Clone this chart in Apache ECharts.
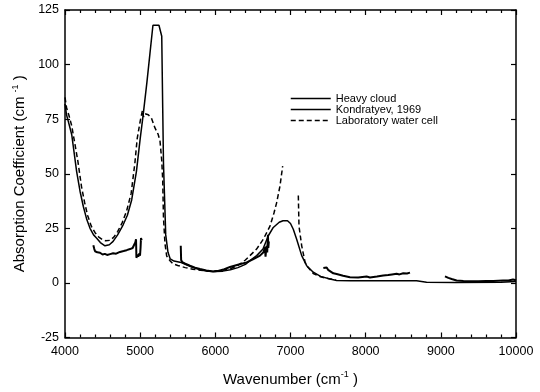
<!DOCTYPE html>
<html>
<head>
<meta charset="utf-8">
<script src="https://cdn.jsdelivr.net/npm/echarts@6/dist/echarts.min.js"></script>
<style>
  html, body { margin: 0; padding: 0; background: #fff; }
  #chart { width: 540px; height: 392px; }
</style>
</head>
<body>
<div id="chart"></div>
<script>
// 坐标轴范围
const xMin = 4000, xMax = 10000, xStep = 1000;
const yMin = -25, yMax = 125, yStep = 25;

const legendNames = ['Heavy cloud', 'Kondratyev, 1969', 'Laboratory water cell'];

// Kondratyev, 1969 (平滑实线)
const kondratyev = [
  [4000, 82], [4020, 77], [4044, 74], [4089, 68], [4155, 51], [4200, 42], [4244, 35],
  [4290, 29], [4333, 25], [4380, 22], [4422, 20.5], [4470, 18.5], [4532, 17], [4590, 17.5],
  [4640, 19], [4700, 22], [4772, 26.5], [4830, 31], [4887, 38], [4950, 51], [5000, 66],
  [5040, 77], [5090, 92], [5130, 105], [5170, 118], [5250, 118], [5287, 113], [5300, 80],
  [5310, 55], [5340, 22], [5370, 14], [5400, 11], [5450, 10], [5530, 9.5], [5600, 8.5],
  [5700, 7], [5800, 6], [5900, 5.3], [6000, 5.2], [6100, 5.4], [6200, 6], [6300, 7],
  [6400, 8.5], [6460, 10.2], [6550, 12.5], [6634, 15.5], [6705, 21.6], [6771, 25.4],
  [6850, 27.8], [6900, 28.5], [6960, 28.5], [7000, 27.2], [7037, 24.6], [7082, 20],
  [7149, 12.5], [7215, 7.9], [7303, 4.9], [7400, 3], [7525, 1.8], [7614, 1.1], [7800, 1],
  [8200, 1], [8677, 1], [8810, 0.3], [9200, 0.2], [9800, 0.3], [10000, 0.6]
];

// Laboratory water cell (虚线, 中间断开)
const waterCellA = [
  [4000, 85], [4022, 80], [4050, 77], [4089, 72], [4130, 64], [4170, 56], [4220, 44],
  [4260, 37], [4300, 31], [4350, 26], [4400, 23], [4450, 21], [4500, 19.8], [4540, 19.3],
  [4600, 19.5], [4650, 21], [4700, 23.5], [4760, 27.5], [4820, 33], [4880, 41], [4930, 55],
  [4960, 66], [5000, 74], [5030, 79], [5045, 76], [5060, 77.5], [5108, 77], [5150, 75.5],
  [5197, 71], [5240, 68], [5264, 65], [5287, 56], [5300, 47], [5310, 30], [5330, 18],
  [5353, 12.3], [5400, 10], [5437, 8.7], [5500, 8], [5600, 7], [5700, 6.3], [5800, 5.8],
  [5900, 5.5], [6000, 5.5], [6100, 5.8], [6200, 6.5], [6300, 8], [6400, 10.5], [6460, 12.5],
  [6549, 15.5], [6638, 20], [6727, 26], [6780, 32], [6816, 36.8], [6860, 44.4], [6896, 53.5]
];
const waterCellB = [
  [7104, 40], [7113, 26], [7149, 17], [7193, 9.6], [7215, 7.9], [7303, 4.3], [7400, 2.8],
  [7500, 2], [7600, 1.4]
];

// Heavy cloud (噪声实线, 四段)
const heavyCloudA = [
  [4377, 17.3], [4390, 15.5], [4400, 14.5], [4430, 14], [4466, 13.8], [4500, 13], [4530, 13.3],
  [4560, 12.8], [4600, 13.2], [4640, 13.6], [4680, 13.4], [4731, 14.2], [4780, 14.6],
  [4820, 15], [4865, 15.5], [4900, 16], [4920, 17.5], [4935, 18.5], [4945, 20], [4950, 11.5],
  [4965, 13], [4975, 12], [4990, 13.5], [4998, 12.5], [5005, 16], [5011, 20.5], [5020, 19.5]
];
const heavyCloudB = [
  [5540, 17], [5545, 10.5], [5560, 9.5], [5600, 8.8], [5663, 7.9], [5730, 7], [5796, 6.4],
  [5880, 5.7], [5970, 5.2], [6050, 5.6], [6120, 6.3], [6195, 7.3], [6300, 8.3], [6417, 9.4],
  [6500, 10.8], [6594, 12.5], [6640, 14], [6660, 16.3], [6668, 12], [6680, 17], [6690, 14],
  [6700, 22], [6705, 16], [6712, 19]
];
const heavyCloudC = [
  [7437, 6.8], [7460, 7.4], [7481, 7.1], [7500, 6], [7525, 5.6], [7570, 4.4], [7614, 4.1],
  [7700, 3.3], [7791, 2.6], [7900, 2.5], [8013, 2.9], [8057, 2.5], [8150, 2.9], [8234, 3.4],
  [8300, 3.6], [8350, 3.9], [8412, 4.2], [8450, 3.9], [8500, 4.4], [8550, 4.3], [8590, 4.7]
];
const heavyCloudD = [
  [9055, 3], [9100, 2.3], [9144, 1.8], [9210, 1.1], [9300, 0.9], [9400, 0.8], [9500, 0.8],
  [9600, 0.9], [9700, 0.9], [9827, 1.05], [9900, 1.1], [9960, 1.6], [9986, 1.4], [10000, 1.2]
];

const font = 'Liberation Sans, Arial, sans-serif';
const chart = echarts.init(document.getElementById('chart'), null, { renderer: 'canvas' });

const axisLine = { show: true, onZero: false, lineStyle: { color: '#000', width: 1.5 } };
const tick = { show: true, inside: true, length: 5, lineStyle: { color: '#000', width: 1.2 } };
const minor = { show: true, splitNumber: 5, length: 3, lineStyle: { color: '#000', width: 1.2 } };

const xBase = {
  type: 'value', min: xMin, max: xMax, interval: xStep,
  axisLine, axisTick: tick, minorTick: minor, splitLine: { show: false }
};
const yBase = {
  type: 'value', min: yMin, max: yMax, interval: yStep,
  axisLine, axisTick: tick, splitLine: { show: false }
};

const sup = { fontSize: 9, fontFamily: font, color: '#000', padding: [0, 0, 9, 0] };

function lineSeries(name, data, type, width) {
  return {
    name, type: 'line', data, symbol: 'none', smooth: false,
    xAxisIndex: 0, yAxisIndex: 0, animation: false,
    itemStyle: { color: '#000' },
    lineStyle: { color: '#000', width, type }
  };
}

const option = {
  animation: false,
  color: ['#000'],
  grid: { left: 65, right: 24, top: 10, bottom: 53 },
  legend: {
    orient: 'vertical', left: 285, top: 88, itemWidth: 40, itemHeight: 11, itemGap: 0,
    data: legendNames,
    itemStyle: { opacity: 0 },
    lineStyle: { width: 1.5 },
    textStyle: { fontFamily: font, fontSize: 11, lineHeight: 11, color: '#000' },
    selectedMode: false
  },
  xAxis: [
    Object.assign({}, xBase, {
      position: 'bottom',
      axisLabel: { color: '#000', fontFamily: font, fontSize: 12.5, margin: 8, formatter: v => String(v) },
      name: 'Wavenumber (cm{sup|-1} )',
      nameLocation: 'middle', nameGap: 33,
      nameTextStyle: { fontFamily: font, fontSize: 15, color: '#000', rich: { sup } }
    }),
    Object.assign({}, xBase, { position: 'top', axisLabel: { show: false } })
  ],
  yAxis: [
    Object.assign({}, yBase, {
      position: 'left',
      axisLabel: { color: '#000', fontFamily: font, fontSize: 12.5, margin: 6, formatter: v => String(v) },
      name: 'Absorption Coefficient (cm {sup|-1} )',
      nameLocation: 'middle', nameGap: 32,
      nameTextStyle: { fontFamily: font, fontSize: 15, color: '#000', rich: { sup } }
    }),
    Object.assign({}, yBase, { position: 'right', axisLabel: { show: false } })
  ],
  series: [
    lineSeries('Heavy cloud', heavyCloudA, 'solid', 2),
    lineSeries('Heavy cloud', heavyCloudB, 'solid', 2),
    lineSeries('Heavy cloud', heavyCloudC, 'solid', 2),
    lineSeries('Heavy cloud', heavyCloudD, 'solid', 2),
    lineSeries('Kondratyev, 1969', kondratyev, 'solid', 1.5),
    lineSeries('Laboratory water cell', waterCellA, [5, 3], 1.5),
    lineSeries('Laboratory water cell', waterCellB, [5, 3], 1.5)
  ]
};

chart.setOption(option);
</script>
</body>
</html>
